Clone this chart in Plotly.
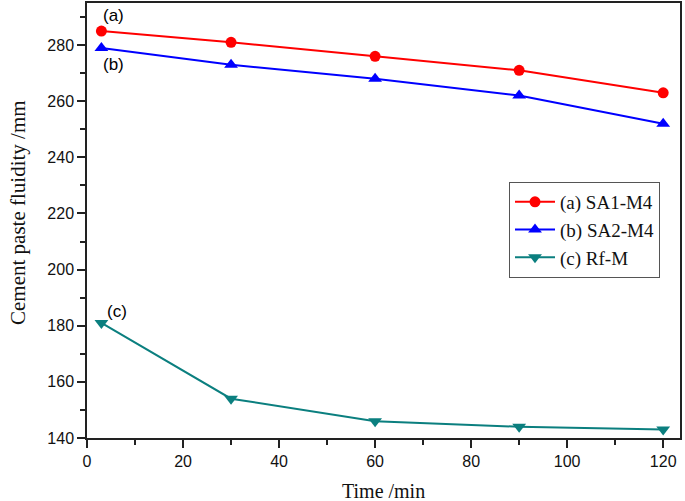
import plotly.graph_objects as go

time_min = [3, 30, 60, 90, 120]
sa1_m4 = [285, 281, 276, 271, 263]
sa2_m4 = [279, 273, 268, 262, 252]
rf_m = [181, 154, 146, 144, 143]

fig = go.Figure()
fig.add_trace(go.Scatter(x=time_min, y=sa1_m4, mode="lines+markers", name="(a) SA1-M4",
                         line=dict(color="#FF0000", width=2),
                         marker=dict(symbol="circle", size=11, color="#FF0000")))
fig.add_trace(go.Scatter(x=time_min, y=sa2_m4, mode="lines+markers", name="(b) SA2-M4",
                         line=dict(color="#0000FF", width=2),
                         marker=dict(symbol="triangle-up", size=12, color="#0000FF")))
fig.add_trace(go.Scatter(x=time_min, y=rf_m, mode="lines+markers", name="(c) Rf-M",
                         line=dict(color="#0B7F7F", width=2),
                         marker=dict(symbol="triangle-down", size=12, color="#0B7F7F")))

ann_font = dict(family="Liberation Sans, Arial", size=17, color="black")
fig.add_annotation(x=time_min[0], y=sa1_m4[0], text="(a)", showarrow=False,
                   xanchor="left", yanchor="bottom", xshift=0, yshift=4, font=ann_font)
fig.add_annotation(x=time_min[0], y=sa2_m4[0], text="(b)", showarrow=False,
                   xanchor="left", yanchor="top", xshift=0, yshift=-5, font=ann_font)
fig.add_annotation(x=time_min[0], y=rf_m[0], text="(c)", showarrow=False,
                   xanchor="left", yanchor="bottom", xshift=4, yshift=0, font=ann_font)

title_font = dict(family="Liberation Serif, Times New Roman", size=20, color="#111")
fig.add_annotation(text="Time /min", xref="paper", yref="paper", x=(383 - 87) / 593,
                   y=-(491 - 438) / 435, xanchor="center", yanchor="middle",
                   showarrow=False, font=title_font)
fig.add_annotation(text="Cement paste fluidity /mm", xref="paper", yref="paper",
                   x=-(87 - 18) / 593, y=(438 - 213) / 435, xanchor="center", yanchor="middle",
                   textangle=-90, showarrow=False, font=dict(family="Liberation Serif, Times New Roman", size=21, color="#111"))

axis_common = dict(showgrid=False, zeroline=False, showline=True, linecolor="#222",
                   linewidth=1.5, mirror=True, ticks="outside", ticklen=8, tickwidth=1.5,
                   tickcolor="#222", automargin=False,
                   tickfont=dict(family="Liberation Sans, Arial", size=16, color="#111"))

fig.update_xaxes(range=[0, 123.5], tickvals=[0, 20, 40, 60, 80, 100, 120],
                 minor=dict(ticks="outside", ticklen=5, tickwidth=1.5, tickcolor="#222", dtick=10, tick0=0),
                 **axis_common)
fig.update_yaxes(range=[140, 295], tickvals=[140, 160, 180, 200, 220, 240, 260, 280],
                 minor=dict(ticks="outside", ticklen=5, tickwidth=1.5, tickcolor="#222", dtick=10, tick0=140),
                 **axis_common)

fig.update_layout(width=685, height=501, plot_bgcolor="white", paper_bgcolor="white",
                  margin=dict(l=87, r=5, t=3, b=63, autoexpand=False),
                  showlegend=True,
                  legend=dict(x=(509 - 87) / 593, y=(438 - 182) / 435, xanchor="left", yanchor="top",
                              bordercolor="#555", borderwidth=1, bgcolor="white",
                              font=dict(family="Liberation Serif, Times New Roman", size=19, color="#111"),
                              tracegroupgap=0, itemwidth=40))

fig.write_html("out.html", config={"displayModeBar": False},
               post_script="document.body.style.margin='0';document.body.style.overflow='hidden';")
